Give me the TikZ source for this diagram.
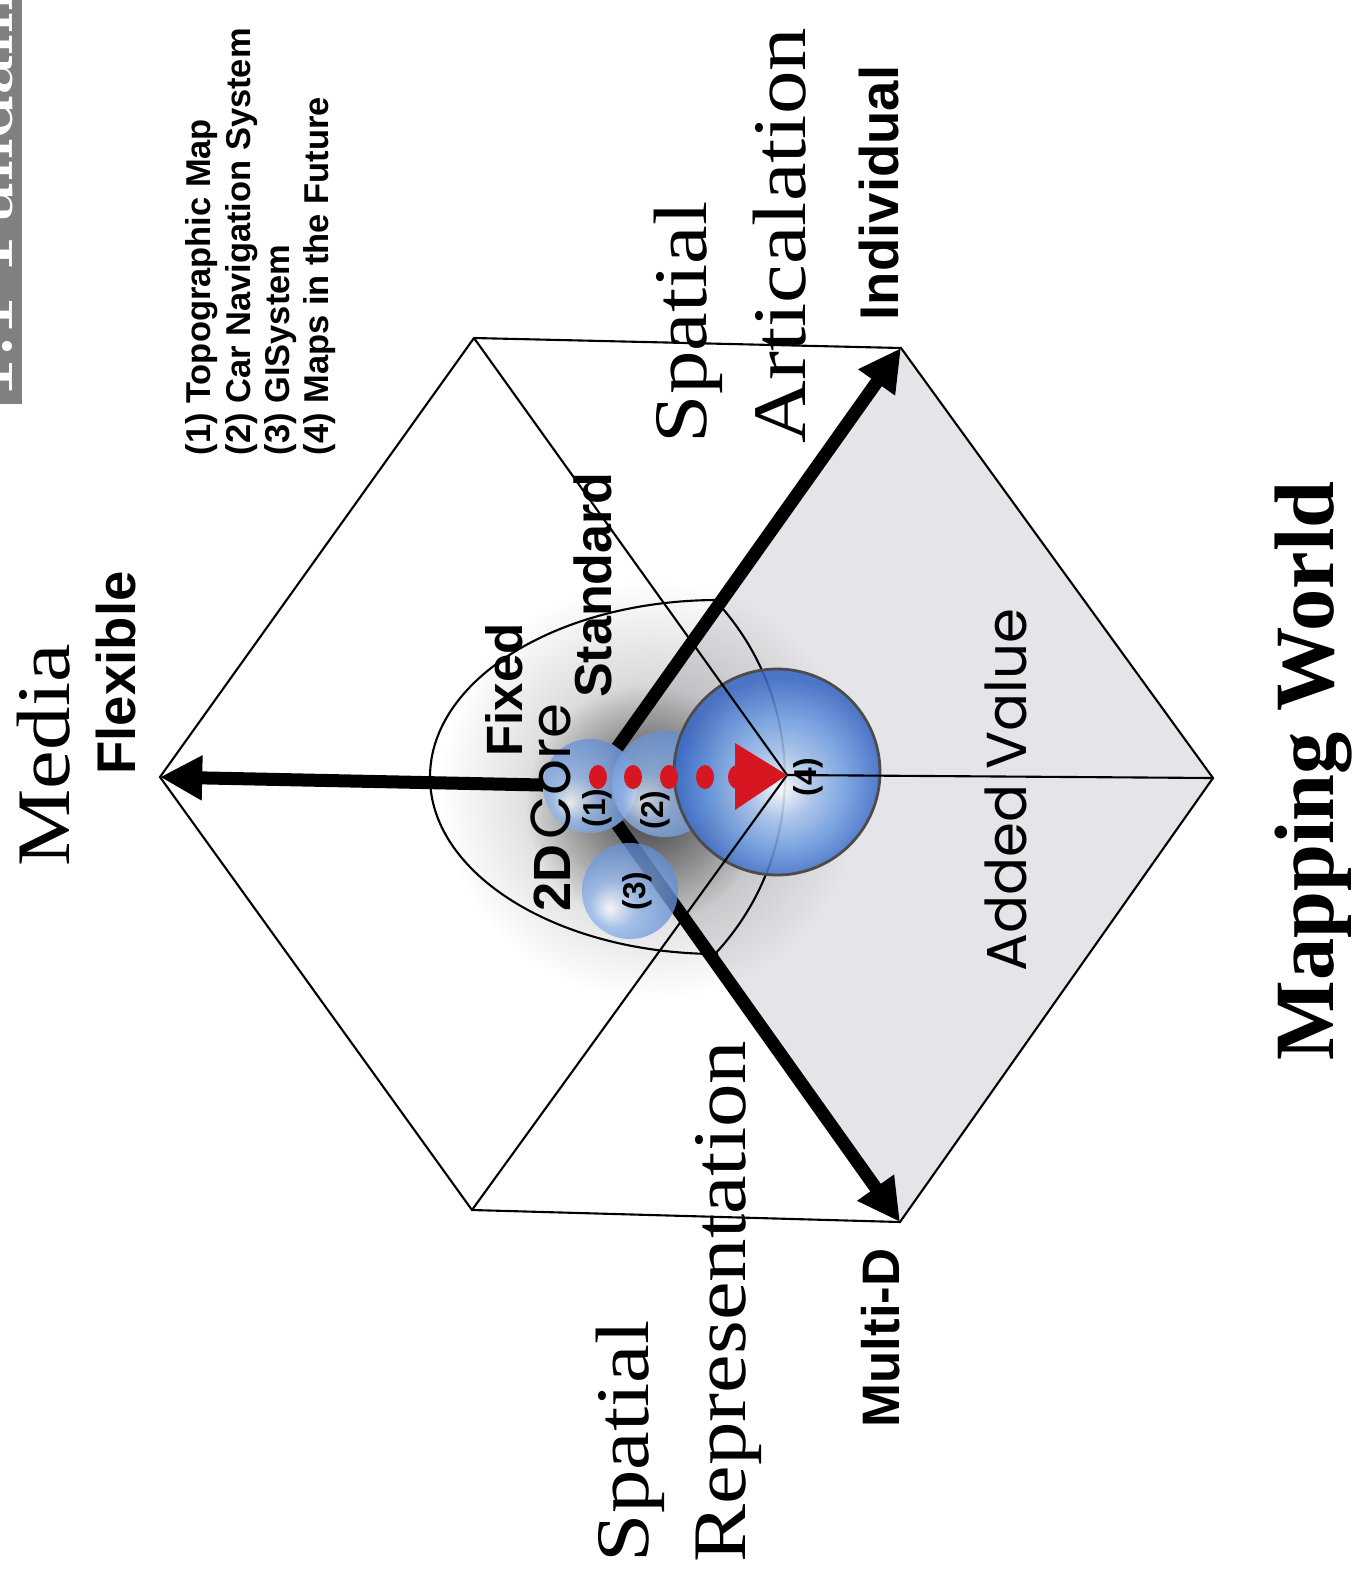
\documentclass[tikz,border=0pt]{standalone}
\usepackage{fontspec}
\newfontfamily\arialfont{Liberation Sans}
\newfontfamily\timesfont{Liberation Serif}
\newfontfamily\gothfont{Poppins}
\usetikzlibrary{arrows.meta,fadings}

\definecolor{facegray}{RGB}{229,229,233}
\definecolor{dotred}{RGB}{214,22,32}
\definecolor{bigedge}{RGB}{58,104,196}
\definecolor{bigmid}{RGB}{112,158,226}
\definecolor{smalledge}{RGB}{98,142,214}
\definecolor{smallmid}{RGB}{150,185,235}
\definecolor{barcol}{RGB}{128,128,128}

\pgfdeclareradialshading{bigsphere}{\pgfpoint{1bp}{-4bp}}{color(0bp)=(white); color(8bp)=(bigmid!60!white); color(16bp)=(bigmid); color(25bp)=(bigedge); color(50bp)=(bigedge)}
\pgfdeclareradialshading{smallsphere}{\pgfpoint{-11bp}{-9bp}}{color(0bp)=(white); color(12bp)=(smallmid); color(30bp)=(smalledge); color(50bp)=(smalledge)}
\tikzfading[name=wideglow, inner color=transparent!70, outer color=transparent!100]
\tikzfading[name=nearglow, inner color=transparent!38, outer color=transparent!100]

\tikzset{
  thinline/.style={line width=0.6pt, black},
  bigarrow/.style={line width=3.7pt, -{Triangle[length=12pt,width=12pt]}},
  serifbig/.style={font=\timesfont\fontsize{21.5}{25}\selectfont, rotate=90, inner sep=0, anchor=base west},
  axislbl/.style={rotate=90, inner sep=0, anchor=base, font=\arialfont\bfseries\fontsize{15.5}{18}\selectfont},
  legend/.style={rotate=90, inner sep=0, anchor=base west, font=\arialfont\bfseries\fontsize{9.8}{11.4}\selectfont},
  numlbl/.style={rotate=90, inner sep=0, font=\arialfont\bfseries\fontsize{9}{10}\selectfont},
  smallbubble/.style={circle, inner sep=0, shading=smallsphere, fill opacity=0.78},
}

\begin{document}
\begin{tikzpicture}[x=0.01cm, y=0.01cm]
\useasboundingbox (0,0) rectangle (1361,-1581);
\fill[white] (0,0) rectangle (1361,-1581);

% cube corners
\coordinate (L)  at (160,-777);
\coordinate (TL) at (474,-338);
\coordinate (TR) at (901,-348);
\coordinate (R)  at (1213,-778);
\coordinate (BR) at (900,-1222);
\coordinate (BL) at (472,-1210);
\coordinate (C)  at (787,-775);
\coordinate (o)  at (590,-786);

% shaded face and soft shadow of the core
\fill[facegray] (o) -- (TR) -- (R) -- (BR) -- cycle;
\fill[black, path fading=wideglow] (650,-790) circle (210);
\fill[black, path fading=nearglow] (645,-805) circle (120);

% core outline
\draw[thinline] (718,-600) arc[start angle=90, end angle=270, x radius=288, y radius=177];
\draw[thinline] (715,-600) arc[start angle=43.1, end angle=-43.1, radius=259];

% axes
\draw[bigarrow, shorten <=0.47cm] (o) -- (L);
\draw[bigarrow, shorten <=0.47cm] (o) -- (TR);
\draw[bigarrow, shorten <=0.47cm] (o) -- (BR);

% spheres
\node[smallbubble, minimum size=0.94cm] (b1) at (o) {};
\node[smallbubble, minimum size=0.96cm] (b3) at (630,-891) {};
\node[smallbubble, minimum size=1.06cm] (b2) at (665,-784) {};
\node[circle, inner sep=0, minimum size=2.06cm, shading=bigsphere, fill opacity=0.88] (b4) at (777,-772) {};
\draw[line width=0.8pt, black!70] (b4.center) circle (103);

% cube edges
\draw[thinline] (L) -- (TL) -- (TR) -- (R) -- (BR) -- (BL) -- cycle;
\draw[thinline] (TL) -- (C) -- (BL) (C) -- (R);

% path of development
\foreach \x in {598,633,669,705,737} \fill[dotred] (\x,-777) ellipse [x radius=9, y radius=12];
\fill[dotred] (735,-743) -- (C) -- (735,-810) -- cycle;

% sphere numbers
\node[numlbl] (n1) at (597,-808) {(1)};
\node[numlbl] (n2) at (655,-810) {(2)};
\node[numlbl] (n3) at (637,-891) {(3)};
\node[numlbl] (n4) at (808,-777) {(4)};

% axis titles
\node[serifbig] (media) at (70,-867) {\scalebox{1.15}[1]{Media}};
\node[serifbig] (artA) at (706,-444) {\scalebox{1.15}[1]{Spatial}};
\node[serifbig] (artB) at (805,-444) {\scalebox{1.15}[1]{Articalation}};
\node[serifbig] (repA) at (648,-1563) {\scalebox{1.15}[1]{Spatial}};
\node[serifbig] (repB) at (745,-1563) {\scalebox{1.15}[1]{Representation}};
\node[rotate=90, inner sep=0, anchor=base, font=\timesfont\bfseries\fontsize{24}{28}\selectfont] (world) at (1333,-771) {Mapping World};

% axis ends
\node[axislbl] (flex) at (136,-673) {Flexible};
\node[axislbl] (indiv) at (898,-193) {Individual};
\node[axislbl, font=\arialfont\bfseries\fontsize{15}{18}\selectfont] (multi) at (899,-1338) {Multi-D};
\node[axislbl, font=\arialfont\bfseries\fontsize{14.5}{18}\selectfont] (fixed) at (522,-690) {Fixed};
\node[axislbl, font=\arialfont\bfseries\fontsize{14.8}{18}\selectfont] (std) at (611,-585) {Standard};
\node[rotate=90, inner sep=0, anchor=base west, font=\arialfont\bfseries\fontsize{14.9}{18}\selectfont] (twod) at (570,-912) {2D};
\node[rotate=90, inner sep=0, anchor=base west, font=\gothfont\fontsize{16}{18}\selectfont] (core) at (570,-840) {Core};
\node[rotate=90, inner sep=0, anchor=base, font=\gothfont\fontsize{16}{18}\selectfont] (added) at (1026,-790) {Added Value};

% legend
\node[legend] (leg1) at (210,-456) {(1) Topographic Map};
\node[legend] (leg2) at (250,-456) {(2) Car Navigation System};
\node[legend] (leg3) at (289,-456) {(3) GISystem};
\node[legend] (leg4) at (328,-456) {(4) Maps in the Future};

% running head strip
\fill[barcol] (0,0) rectangle (22,-404);
\begin{scope}
\clip (0,0) rectangle (22,-404);
\node[rotate=90, anchor=base west, inner sep=0, text=white, font=\bfseries\fontsize{20}{24}\selectfont] (hdr) at (12,-398) {1.1 Fundamentals of};
\end{scope}
\end{tikzpicture}
\end{document}
